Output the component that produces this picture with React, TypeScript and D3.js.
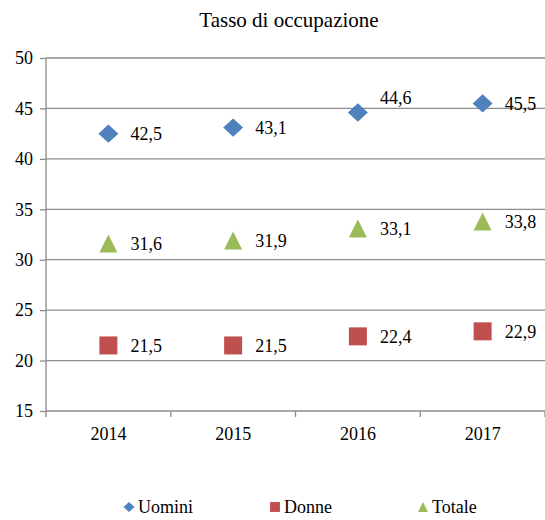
import React, { useRef, useEffect } from 'react';
import * as d3 from 'd3';

const years = ['2014', '2015', '2016', '2017'];
const uomini = [42.5, 43.1, 44.6, 45.5];
const donne = [21.5, 21.5, 22.4, 22.9];
const totale = [31.6, 31.9, 33.1, 33.8];
const yTicks = [15, 20, 25, 30, 35, 40, 45, 50];

const series = [
  { name: 'Uomini', values: uomini, color: '#4F81BD', shape: 'diamond' },
  { name: 'Donne', values: donne, color: '#C0504D', shape: 'square' },
  { name: 'Totale', values: totale, color: '#9BBB59', shape: 'triangle' },
];

const fmt = (v: number) => v.toFixed(1).replace('.', ',');

// triangle as tall as it is wide
const tallTriangle = {
  draw(ctx: any, size: number) {
    const h = Math.sqrt(size);
    ctx.moveTo(0, -h / 2);
    ctx.lineTo(h / 2, h / 2);
    ctx.lineTo(-h / 2, h / 2);
    ctx.closePath();
  },
};
const diamond = {
  draw(ctx: any, size: number) {
    const r = Math.sqrt(size) / 2;
    ctx.moveTo(0, -r * 0.92);
    ctx.lineTo(r, 0);
    ctx.lineTo(0, r * 0.92);
    ctx.lineTo(-r, 0);
    ctx.closePath();
  },
};

const App = () => {
  const ref = useRef<SVGSVGElement>(null);

  useEffect(() => {
    const svg = d3.select(ref.current);
    svg.selectAll('*').remove();

    const margin = { top: 58, left: 46, right: 0, bottom: 110 };
    const width = 545 - margin.left - margin.right;
    const height = 520 - margin.top - margin.bottom;

    const x = d3.scaleBand().domain(years).range([0, width]);
    const y = d3.scaleLinear().domain([15, 50]).range([height + 1, 0]);

    svg.append('text')
      .attr('x', 289).attr('y', 27)
      .attr('text-anchor', 'middle')
      .attr('font-size', 21)
      .text('Tasso di occupazione');

    const g = svg.append('g').attr('transform', `translate(${margin.left},${margin.top})`);

    // gridlines
    g.selectAll('line.grid')
      .data(yTicks.filter(t => t > 15))
      .enter().append('line')
      .attr('x1', 0).attr('x2', width)
      .attr('y1', d => y(d)).attr('y2', d => y(d))
      .attr('stroke', '#8c8c8c').attr('stroke-width', 1.3);

    // y axis
    const yAxis = g.append('g')
      .call(d3.axisLeft(y).tickValues(yTicks).tickSize(6).tickPadding(7).tickFormat(d3.format('d')));
    yAxis.attr('font-family', null).attr('font-size', 18);
    yAxis.selectAll('text').attr('fill', '#000');
    yAxis.selectAll('.domain, .tick line').attr('stroke', '#8c8c8c').attr('stroke-width', 1.3);
    yAxis.select('.domain').attr('d', `M0,${y(15)}V${y(50)}`);

    // x axis
    const xg = g.append('g').attr('transform', `translate(0,${y(15)})`);
    xg.append('line').attr('x1', 0).attr('x2', width).attr('stroke', '#8c8c8c').attr('stroke-width', 1.3);
    xg.selectAll('line.tk')
      .data(d3.range(years.length + 1))
      .enter().append('line')
      .attr('x1', i => i * x.step()).attr('x2', i => i * x.step())
      .attr('y1', 0).attr('y2', 6)
      .attr('stroke', '#8c8c8c').attr('stroke-width', 1.3);
    xg.selectAll('text')
      .data(years)
      .enter().append('text')
      .attr('x', d => x(d)! + x.bandwidth() / 2)
      .attr('y', 29)
      .attr('text-anchor', 'middle')
      .attr('font-size', 18)
      .text(d => d);

    const symbolFor = (shape: string, scale: number) =>
      shape === 'diamond'
        ? d3.symbol().type(diamond).size(400 * scale)
        : shape === 'square'
          ? d3.symbol().type(d3.symbolSquare).size(324 * scale)
          : d3.symbol().type(tallTriangle).size(324 * scale);

    series.forEach(s => {
      const sg = g.append('g');
      s.values.forEach((v, i) => {
        const cx = x(years[i])! + x.bandwidth() / 2;
        const cy = y(v);
        sg.append('path')
          .attr('d', symbolFor(s.shape, 1)()!)
          .attr('transform', `translate(${cx},${cy})`)
          .attr('fill', s.color);
        const lift = s.name === 'Uomini' && i === 2 ? -15 : 0;
        sg.append('text')
          .attr('x', cx + 22)
          .attr('y', cy + lift)
          .attr('dy', '0.35em')
          .attr('font-size', 18)
          .text(fmt(v));
      });
    });

    // legend
    const legendX = [129, 275, 423];
    const lg = svg.append('g').attr('transform', 'translate(0,507)');
    series.forEach((s, i) => {
      lg.append('path')
        .attr('d', symbolFor(s.shape, 0.3)()!)
        .attr('transform', `translate(${legendX[i]},0)`)
        .attr('fill', s.color);
      lg.append('text')
        .attr('x', legendX[i] + 9)
        .attr('y', 0)
        .attr('dy', '0.35em')
        .attr('font-size', 18)
        .text(s.name);
    });
  }, []);

  return (
    <svg
      ref={ref}
      width={545}
      height={520}
      fontFamily="Liberation Serif, DejaVu Serif, serif"
      style={{ position: 'absolute', left: 0, top: 0 }}
    />
  );
};

export default App;
